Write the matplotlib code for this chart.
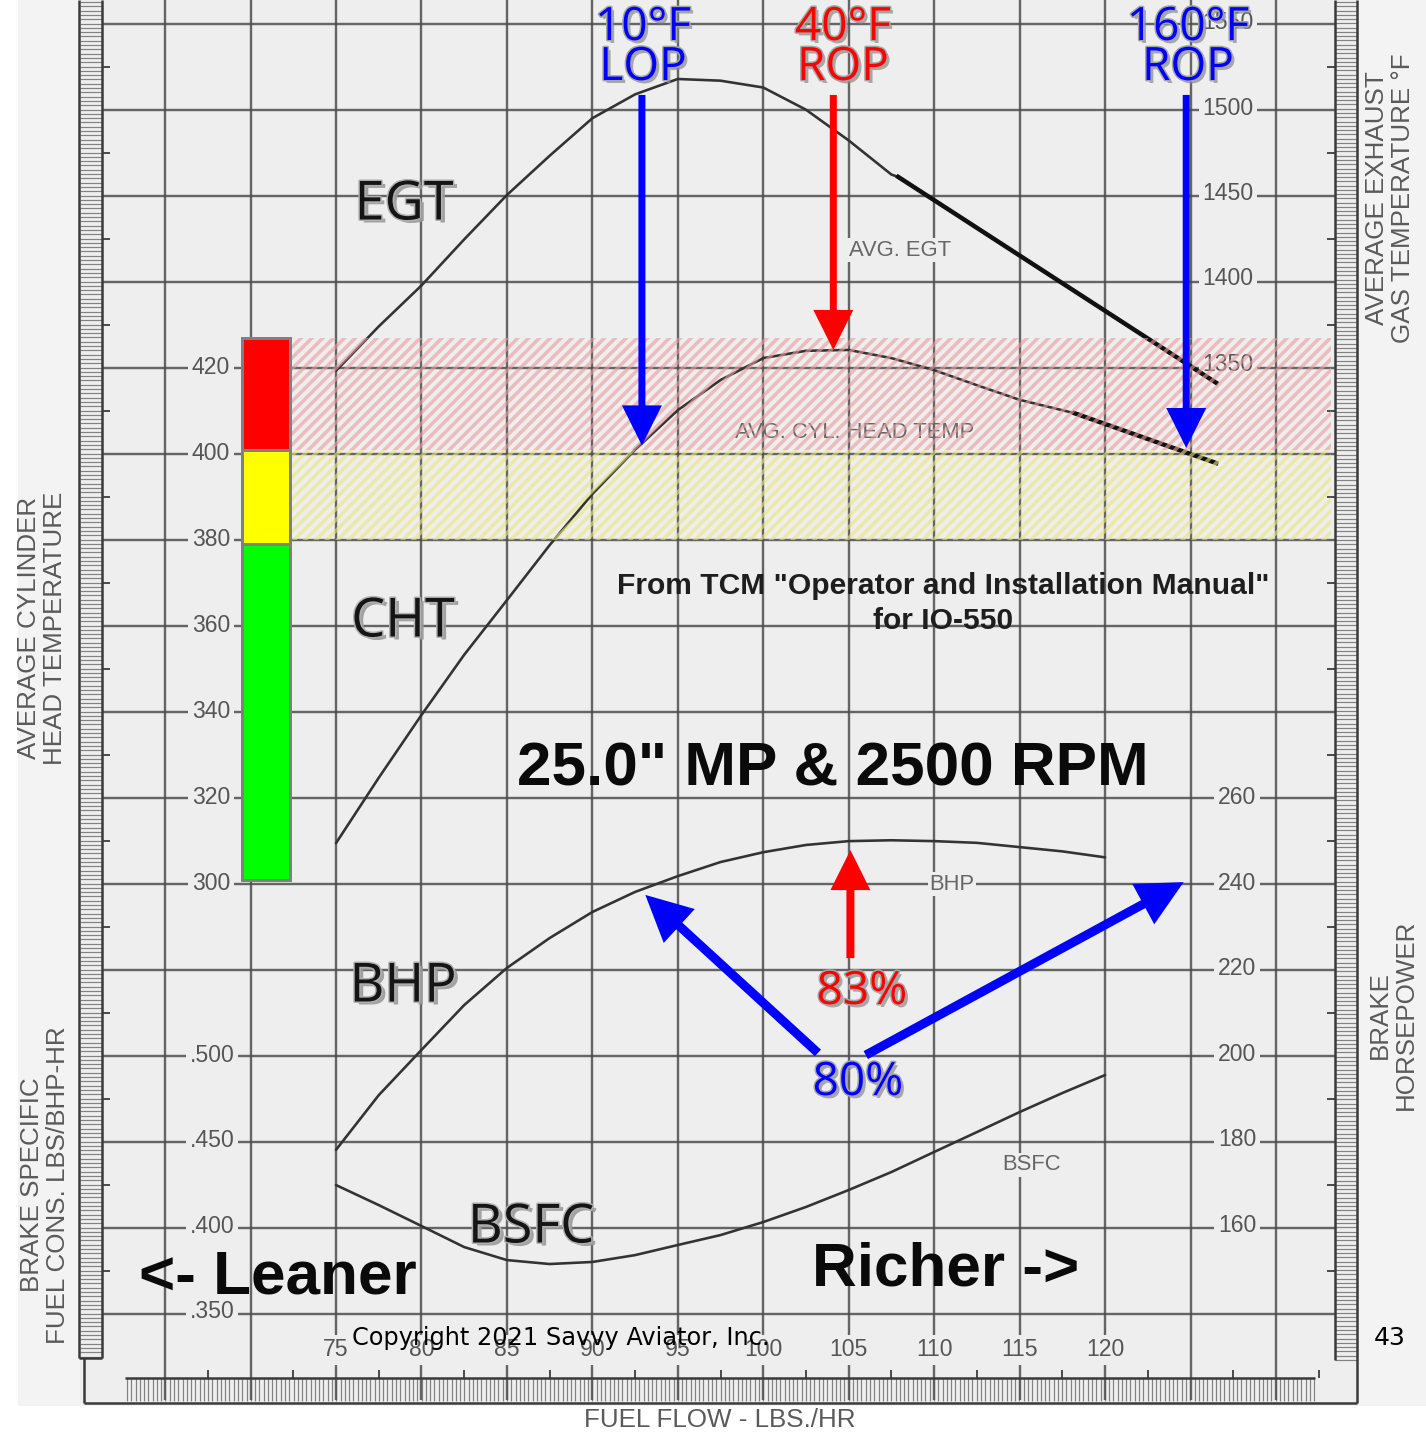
'''IO-550 mixture chart: EGT, CHT, BHP and BSFC versus fuel flow.'''

import numpy as np
import matplotlib
matplotlib.use('Agg')
import matplotlib.pyplot as plt
from matplotlib import patheffects as pe
from matplotlib.patches import Rectangle, FancyArrowPatch
from matplotlib.transforms import blended_transform_factory as blend

W, H, DPI = 1426, 1432, 130
PAPER = '#eeeeee'
GRID = '#4d4d4d'
CURVE = '#333333'

# fuel flow (lbs/hr) and the curves read at those flows
egt_ff = [75, 77.5, 80, 82.5, 85, 87.5, 90, 92.5, 95, 97.5, 100, 102.5, 105, 107.5, 107.9]
egt = [1346, 1372, 1396, 1423, 1449, 1472, 1494, 1508, 1517, 1516, 1512, 1499, 1481, 1461, 1459.6]
egt_rich_ff = [107.9, 126.5]
egt_rich = [1459.6, 1339]

cht_ff = [75, 77.5, 80, 82.5, 85, 87.5, 90, 92.5, 95, 97.5, 100, 102.5, 105, 107.5, 110, 112.5, 115, 118.2]
cht = [309.5, 324.7, 339.3, 353.3, 366.0, 378.8, 390.7, 401.0, 410.2, 417.2, 422.3, 424.0, 424.2,
       422.3, 419.5, 416.0, 412.6, 409.5]
cht_rich_ff = [118.2, 126.5]
cht_rich = [409.5, 397.9]

perf_ff = [75, 77.5, 80, 82.5, 85, 87.5, 90, 92.5, 95, 97.5, 100, 102.5, 105, 107.5, 110, 112.5, 115, 117.5, 120]
bhp = [177.6, 190.4, 201.0, 211.5, 220.2, 227.2, 233.3, 238.0, 241.7, 245.0, 247.3, 249.0, 249.9,
       250.1, 249.9, 249.5, 248.5, 247.5, 246.1]
bsfc = [.4241, .4124, .4002, .3879, .3803, .3780, .3792, .3832, .3891, .3949, .4025, .4113, .4212,
        .4317, .4434, .4550, .4667, .4778, .4883]

# axis tick values
ff_ticks = [75, 80, 85, 90, 95, 100, 105, 110, 115, 120]
cht_ticks = [300, 320, 340, 360, 380, 400, 420]
egt_ticks = [1350, 1400, 1450, 1500, 1550]
bhp_ticks = [160, 180, 200, 220, 240, 260]
bsfc_ticks = [.350, .400, .450, .500]

# CHT limits (deg F)
cht_red = (401, 427)
cht_yellow = (380, 401)
bar_levels = [301, 379, 401, 427]
bar_colors = ['#00ff00', '#ffff00', '#ff0000']

# operating points
lop_ff, rop40_ff, rop160_ff = 92.9, 104.1, 124.75
cht_lop, cht_rop40, cht_rop160 = 402.0, 424.2, 401.4
bhp_tail_83, bhp_83 = (105.1, 222.5), (105.1, 247.8)
tail_80_left, tip_80_left = (103.2, 200.3), (93.1, 237.3)
tail_80_right, tip_80_right = (106.0, 199.8), (124.6, 240.3)


def pt(v):
    '''pixels -> points'''
    return v * 72 / DPI


def ylims(v0, p0, s):
    '''value v0 sits at pixel row p0, s pixels per unit'''
    return v0 - (H - p0) / s, v0 + p0 / s


plt.rcParams['hatch.linewidth'] = pt(3.6)
plt.rcParams['font.family'] = ['Liberation Sans', 'DejaVu Sans']

fig = plt.figure(figsize=(W / DPI, H / DPI), dpi=DPI, facecolor='white')

pg = fig.add_axes([0, 0, 1, 1], label='paper')
pg.set_xlim(0, W)
pg.set_ylim(H, 0)
pg.axis('off')

ax = fig.add_axes([0, 0, 1, 1], label='cht')
ax.set_xlim((0 - 336) / 17.09 + 75, (W - 336) / 17.09 + 75)
ax.set_ylim(*ylims(420, 368, 4.3))
axe = fig.add_axes([0, 0, 1, 1], label='egt', sharex=ax)
axe.set_ylim(*ylims(1500, 108, 256 / 150))
axb = fig.add_axes([0, 0, 1, 1], label='bhp', sharex=ax)
axb.set_ylim(*ylims(260, 798, 4.27))
axs = fig.add_axes([0, 0, 1, 1], label='bsfc', sharex=ax)
axs.set_ylim(*ylims(.500, 1055, 257 / .15))
top = fig.add_axes([0, 0, 1, 1], label='notes')
top.set_xlim(0, W)
top.set_ylim(H, 0)
for z, a in enumerate([pg, ax, axe, axb, axs, top]):
    a.set_zorder(z)
    a.axis('off')
    a.patch.set_visible(False)

# paper sheet
pg.add_patch(Rectangle((18, 0), W - 18, 1406, fc='#f3f3f3', ec='none'))
pg.add_patch(Rectangle((80, 0), 1277, 1403, fc=PAPER, ec='none'))

# grid: every 5 lbs/hr and every 20 deg CHT
ff_grid = [65, 70, 75, 80, 85, 90, 95, 100, 105, 110, 115, 120, 125, 130]
cht_grid = [200, 220, 240, 260, 280, 300, 320, 340, 360, 380, 400, 420, 440, 460, 480, 500]
gx = blend(ax.transData, pg.transData)
gy = blend(pg.transData, ax.transData)
pg.vlines(ff_grid, 0, 1400, transform=gx, color=GRID, lw=pt(2.4), alpha=.85)
pg.hlines(cht_grid, 102, 1335, transform=gy, color=GRID, lw=pt(2.4), alpha=.85)

# ruler strips round the edge
rk = dict(color='#555555', lw=pt(1.2), alpha=.7)
pg.hlines(np.arange(2, 1358, 4.3), 80, 102, **rk)
pg.hlines(np.arange(2, 1360, 4.27), 1335, 1357, **rk)
pg.vlines(np.arange(127, 1315, 4.27), 1378, 1401, **rk)
pg.hlines([c + 10 for c in cht_grid], 102, 110, transform=gy, color=GRID, lw=pt(2))
pg.hlines([c + 10 for c in cht_grid], 1327, 1335, transform=gy, color=GRID, lw=pt(2))
pg.vlines([f + 2.5 for f in ff_grid], 1370, 1378, transform=gx, color=GRID, lw=pt(2))
bk = dict(color='#3a3a3a', lw=pt(2.5))
pg.vlines([79, 102], 0, 1358, **bk)
pg.vlines([1335, 1357], 0, [1360, 1403], **bk)
pg.vlines([84], 1358, 1403, **bk)
pg.hlines([1403], 84, 1357, **bk)
pg.hlines([1378], 125, 1315, **bk)
pg.hlines([1358], 79, 102, **bk)

# scale labels
lab = dict(color='#555555', fontsize=pt(23), ha='center', va='center',
           bbox=dict(fc=PAPER, ec='none', pad=2))
for v in cht_ticks:
    pg.text(211, v, str(v), transform=gy, **lab)
for v in bsfc_ticks:
    pg.text(212, v, f'{v:.3f}'[1:], transform=blend(pg.transData, axs.transData), **lab)
for v in egt_ticks:
    pg.text(1228, v, str(v), transform=blend(pg.transData, axe.transData), **lab)
for v in bhp_ticks:
    pg.text(1237, v, str(v), transform=blend(pg.transData, axb.transData), **lab)
for v in ff_ticks:
    pg.text(v, 1350, str(v), transform=gx, **lab)

ttl = dict(color='#5a5a5a', fontsize=pt(26), ha='center', va='center', linespacing=1.1)
pg.text(42, 628, 'AVERAGE CYLINDER\nHEAD TEMPERATURE', rotation=90, **ttl)
pg.text(45, 1185, 'BRAKE SPECIFIC\nFUEL CONS. LBS/BHP-HR', rotation=90, **ttl)
pg.text(1390, 198, 'AVERAGE EXHAUST\nGAS TEMPERATURE \u00b0F', rotation=90, **ttl)
pg.text(1393, 1015, 'BRAKE\nHORSEPOWER', rotation=90, **ttl)
pg.text(720, 1420, 'FUEL FLOW - LBS./HR', **ttl)

# engine curves
ck = dict(color=CURVE, lw=pt(2.6), solid_capstyle='round')
axe.plot(egt_ff, egt, **ck)
ax.plot(cht_ff, cht, **ck)
axb.plot(perf_ff, bhp, **ck)
axs.plot(perf_ff, bsfc, **ck)
axe.plot(egt_rich_ff, egt_rich, color='#111111', lw=pt(4.5))
ax.plot(cht_rich_ff, cht_rich, color='#111111', lw=pt(4.5))

small = dict(color='#666666', fontsize=pt(22), ha='center', va='center',
             bbox=dict(fc=PAPER, ec='none', pad=1))
pg.text(900, 250, 'AVG. EGT', **small)
pg.text(855, 432, 'AVG. CYL. HEAD TEMP', color='#666666', fontsize=pt(22), ha='center', va='center')
pg.text(952, 884, 'BHP', **small)
pg.text(1032, 1165, 'BSFC', **small)

# CHT caution bands
ax_band = ax.transData
for (lo, hi), c in [(cht_red, '#ec9c9c'), (cht_yellow, '#ebe77a')]:
    top.add_patch(Rectangle((72.31, lo), 133.2 - 72.31, hi - lo, transform=ax_band,
                            fc='none', ec=c, lw=0, hatch='////', alpha=.6))
for lo, hi, c in zip(bar_levels[:-1], bar_levels[1:], bar_colors):
    top.add_patch(Rectangle((69.5, lo), 72.31 - 69.5, hi - lo, transform=ax_band,
                            fc=c, ec='#808080', lw=pt(3)))


def arrow(tail, tip, trans, color, shaft, head):
    style = f'simple,head_length={pt(head)},head_width={pt(head)},tail_width={pt(shaft)}'
    top.add_patch(FancyArrowPatch(tail, tip, arrowstyle=style, mutation_scale=1,
                                  transform=trans, color=color, lw=0,
                                  shrinkA=0, shrinkB=0))


arrow((lop_ff, 483.5), (lop_ff, cht_lop), ax.transData, '#0000ff', 7, 40)
arrow((rop40_ff, 483.5), (rop40_ff, cht_rop40), ax.transData, '#ff0000', 7, 40)
arrow((rop160_ff, 483.5), (rop160_ff, cht_rop160), ax.transData, '#0000ff', 7, 40)
arrow(bhp_tail_83, bhp_83, axb.transData, '#ff0000', 8, 40)
arrow(tail_80_left, tip_80_left, axb.transData, '#0000ff', 9, 46)
arrow(tail_80_right, tip_80_right, axb.transData, '#0000ff', 9, 46)

# coloured callouts
glow = [pe.SimplePatchShadow(offset=(pt(3), -pt(3)), shadow_rgbFace='#8a8a8a', alpha=.7),
        pe.Stroke(linewidth=pt(3), foreground='#a5a5a5'), pe.Normal()]
note = dict(family=['Open Sans', 'DejaVu Sans'], fontsize=pt(46), ha='center', va='center',
            path_effects=glow)
for x, line1, line2, c in [(643, '10\u00b0F', 'LOP', '#0000ff'),
                           (843, '40\u00b0F', 'ROP', '#ff0000'),
                           (1188, '160\u00b0F', 'ROP', '#0000ff')]:
    top.text(x, 28, line1, color=c, **note)
    top.text(x, 68, line2, color=c, **note)
top.text(862, 992, '83%', color='#ff0000', **note)
top.text(858, 1083, '80%', color='#0000ff', **note)

shade = [pe.SimplePatchShadow(offset=(pt(4), -pt(3)), shadow_rgbFace='#9a9a9a', alpha=.9),
         pe.Stroke(linewidth=pt(3), foreground='#b0b0b0'), pe.Normal()]
curve_lab = dict(family=['Open Sans', 'DejaVu Sans'], fontsize=pt(54), ha='center', va='center',
                 color='#151515', path_effects=shade)
top.text(404, 205, 'EGT', **curve_lab)
top.text(403, 622, 'CHT', **curve_lab)
top.text(403, 987, 'BHP', **curve_lab)
top.text(531, 1228, 'BSFC', **curve_lab)

# headings
top.text(943, 586, 'From TCM "Operator and Installation Manual"', fontsize=pt(30),
         fontweight='bold', color='#1e1e1e', ha='center', va='center')
top.text(943, 621, 'for IO-550', fontsize=pt(30), fontweight='bold', color='#1e1e1e',
         ha='center', va='center')
top.text(833, 770, '25.0" MP & 2500 RPM', fontsize=pt(62), fontweight='bold', color='#0a0a0a',
         ha='center', va='center')
top.text(278, 1278, '<- Leaner', fontsize=pt(62), fontweight='bold', color='#0a0a0a',
         ha='center', va='center')
top.text(946, 1270, 'Richer ->', fontsize=pt(62), fontweight='bold', color='#0a0a0a',
         ha='center', va='center')
top.text(561, 1338, 'Copyright 2021 Savvy Aviator, Inc.', family='DejaVu Sans',
         fontsize=pt(24), color='black', ha='center', va='center')
top.text(1390, 1338, '43', family='DejaVu Sans', fontsize=pt(25), color='black',
         ha='center', va='center')

fig.savefig('out.png', dpi=DPI, facecolor='white')
